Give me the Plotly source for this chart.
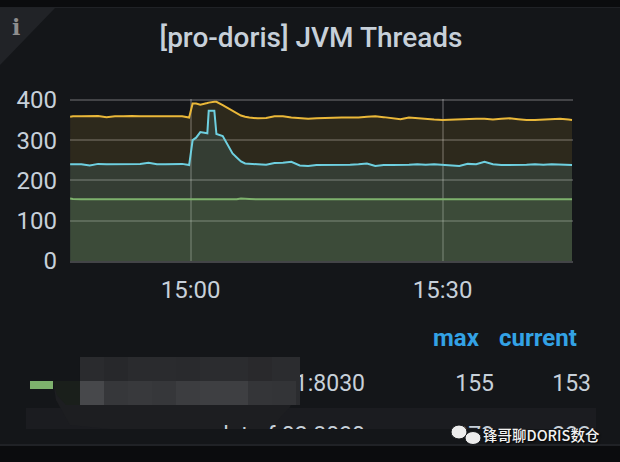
import plotly.graph_objects as go

W, H = 620, 462

clock = [
    "14:45:40", "14:46", "14:47", "14:48", "14:49", "14:50", "14:51", "14:52", "14:53", "14:54",
    "14:55", "14:56", "14:57", "14:58", "14:59", "14:59:50",
    "15:00:15", "15:00:40", "15:01:10", "15:02:00", "15:02:10", "15:02:50", "15:03:05", "15:03:50",
    "15:04:30", "15:05:00", "15:05:30", "15:06:00", "15:06:30", "15:07:00",
    "15:08", "15:09", "15:10", "15:11", "15:12", "15:13", "15:14", "15:15", "15:16", "15:17",
    "15:18", "15:19", "15:20", "15:21", "15:22", "15:23", "15:24", "15:25", "15:26", "15:27",
    "15:28", "15:29", "15:30", "15:31", "15:32", "15:33", "15:34", "15:35", "15:36", "15:37",
    "15:38", "15:39", "15:40", "15:41", "15:42", "15:43", "15:44", "15:45", "15:45:25",
]
times = ["2021-06-01 " + t for t in clock]

threads_a = [
    358, 359, 359, 359, 360, 357, 359, 359, 360, 359, 359, 359, 358, 359, 359, 356,
    391, 391, 388, 392, 393, 395, 395, 387, 379, 373, 367, 361, 358, 356,
    354, 355, 359, 359, 356, 354, 353, 354, 355, 356, 356, 356, 356, 358, 359, 357,
    355, 352, 356, 354, 352, 351, 350, 351, 352, 352, 353, 353, 351, 353, 354, 352,
    350, 350, 351, 353, 353, 351, 350,
]
threads_b = [
    240, 240, 240, 237, 241, 240, 240, 240, 240, 241, 244, 240, 240, 241, 241, 238,
    300, 306, 320, 317, 373, 373, 315, 310, 287, 267, 257, 247, 242, 241,
    240, 239, 243, 244, 246, 237, 236, 238, 238, 239, 239, 239, 240, 242, 236, 238,
    238, 238, 239, 240, 239, 240, 239, 238, 236, 241, 240, 246, 240, 238, 238, 238,
    239, 240, 239, 240, 239, 238, 238,
]
threads_c = [
    155, 154, 153, 153, 153, 153, 153, 153, 153, 153, 153, 153, 153, 153, 153, 153,
    153, 153, 153, 153, 153, 153, 153, 153, 153, 153, 153, 155, 155, 154,
    153, 153, 153, 153, 153, 153, 153, 153, 153, 153, 153, 153, 153, 153, 153, 153,
    153, 153, 153, 153, 153, 153, 153, 153, 153, 153, 153, 153, 153, 153, 153, 153,
    153, 153, 153, 153, 153, 153, 153,
]

legend_names = ["data-f-01:8030", "data-f-02:8030"]
legend_max = ["155", "373"]
legend_current = ["153", "238"]

YELLOW, CYAN, GREEN = "#EAB839", "#6ED0E0", "#7EB26D"
FILLS = {YELLOW: "rgba(234,184,57,0.12)", CYAN: "rgba(110,208,224,0.12)", GREEN: "rgba(126,178,109,0.12)"}
TEXT = "#c7d0d9"
GRID = "rgba(255,255,255,0.2)"


def px(x):
    return x / W


def py(y):
    return 1 - y / H


def rect(x0, y0, x1, y1, color, layer="below"):
    return dict(type="rect", xref="paper", yref="paper", x0=px(x0), x1=px(x1), y0=py(y0), y1=py(y1),
                fillcolor=color, line_width=0, layer=layer)


def path(points, color, layer="below"):
    d = "M " + " L ".join(f"{px(x):.5f},{py(y):.5f}" for x, y in points) + " Z"
    return dict(type="path", xref="paper", yref="paper", path=d, fillcolor=color, line_width=0, layer=layer)


fig = go.Figure()

for values, color in [(threads_a, YELLOW), (threads_b, CYAN), (threads_c, GREEN)]:
    fig.add_trace(go.Scatter(x=times, y=values, mode="lines", line=dict(color=color, width=2),
                             fill="tozeroy", fillcolor=FILLS[color], showlegend=False))

# legend table rows sit on a full-window axis so the second row is cut off at y=429
for labels, right in [(legend_names, 365), (legend_max, 494), (legend_current, 591)]:
    fig.add_trace(go.Scatter(x=[right, right], y=[385, 437], text=labels, mode="text", textposition="middle left",
                             textfont=dict(family="Roboto", size=23, color=TEXT), xaxis="x2", yaxis="y2",
                             showlegend=False))

shapes = [
    rect(0, 8, W, 445, "#141619"),
    rect(0, 7, W, 8, "#202226"),
    rect(0, 444, W, 446, "#202226"),
    path([(0, 8), (55, 8), (0, 65)], "#212327"),
    rect(70, 99, 573, 101, "#434447"),  # top gridline
    rect(26, 408, 596, 429, "#1b1c20"),
    rect(30, 381, 53, 389, GREEN),
    # blurred-out legend name
    path([(53, 381), (56, 400), (70, 425), (110, 429), (270, 429), (290, 407), (299, 385), (300, 365), (298, 357),
          (80, 357), (80, 381)], "#1d1e21"),
    path([(53, 381), (80, 381), (80, 405), (66, 405), (57, 395)], "#1a1f1b", layer="above"),
]
row1 = ["#2a2b2e", "#27282b", "#2a2b2e", "#2a2b2e", "#292a2d", "#2b2c2f", "#2b2c2f", "#29292c", "#2b2c2f"]
row2 = ["#47484b", "#36373a", "#38393c", "#36373a", "#3c3d40", "#3e3f42", "#3e3f42", "#343538", "#333437"]
for i in range(9):
    x0 = 80 + i * 24
    shapes.append(rect(x0, 357, x0 + 24, 381, row1[i], layer="above"))
    shapes.append(rect(x0, 381, x0 + 24, 405, row2[i], layer="above"))
shapes.append(rect(296, 357, 300, 405, "#2b2c2f", layer="above"))

# wechat logo
for cx, cy, rx, ry in [(459, 432, 8, 7), (473, 438, 8, 6.5)]:
    shapes.append(dict(type="circle", xref="paper", yref="paper", x0=px(cx - rx), x1=px(cx + rx), y0=py(cy + ry),
                       y1=py(cy - ry), fillcolor="#ececec", line=dict(color="#141619", width=1), layer="above"))

annotations = [
    dict(x=px(16), y=py(27), text="<b>i</b>", font=dict(family="DejaVu Serif", size=22, color="#8e8e8e")),
    dict(x=px(456), y=py(338), text="max", font=dict(family="Roboto", size=24, weight=700, color="#33a2e5")),
    dict(x=px(537.5), y=py(338), text="current", font=dict(family="Roboto", size=24, weight=700, color="#33a2e5")),
    dict(x=px(541), y=py(434), text="锋哥聊DORIS数仓",
         font=dict(family="Noto Sans CJK SC", size=14.5, weight=500, color="#f2f2f2", shadow="1px 1px 2px #000")),
]
for a in annotations:
    a.update(xref="paper", yref="paper", showarrow=False, xanchor="center", yanchor="middle")

fig.update_layout(
    width=W,
    height=H,
    margin=dict(l=0, r=0, t=0, b=0),
    autosize=False,
    paper_bgcolor="#0b0c0e",
    plot_bgcolor="rgba(0,0,0,0)",
    title=dict(text="[pro-doris] JVM Threads", x=311 / W, y=py(37), xanchor="center", yanchor="middle",
               font=dict(family="Roboto", size=28, weight=500, color=TEXT)),
    xaxis=dict(
        domain=[px(70), px(573)],
        type="date",
        automargin=False,
        range=["2021-06-01 14:45:39", "2021-06-01 15:45:32"],
        tick0="2021-06-01 15:00:00",
        dtick=1800000,
        tickformat="%H:%M",
        tickfont=dict(family="Roboto", size=24, color=TEXT),
        gridcolor=GRID,
        gridwidth=2,
        showline=True,
        linecolor=GRID,
        linewidth=2,
        ticks="",
        ticklabelstandoff=6,
    ),
    yaxis=dict(
        domain=[py(261), py(99)],
        automargin=False,
        range=[0, 402],
        tickvals=[0, 100, 200, 300, 400],
        tickfont=dict(family="Roboto", size=24, color=TEXT),
        gridcolor=GRID,
        gridwidth=2,
        zeroline=False,
        ticks="",
        ticklabelstandoff=12,
    ),
    xaxis2=dict(domain=[0, 1], range=[0, W], anchor="y2", visible=False, automargin=False),
    yaxis2=dict(domain=[py(429), 1], range=[429, 0], anchor="x2", visible=False, automargin=False),
    shapes=shapes,
    annotations=annotations,
)

# the page's default 8px body margin would push the figure off the window
fig.write_html("out.html", config={"displayModeBar": False}, post_script="document.body.style.margin='0';")
